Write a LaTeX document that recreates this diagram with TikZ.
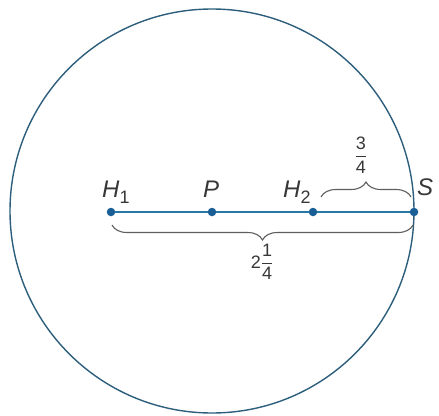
\documentclass[tikz,border=0pt]{standalone}
\usepackage{amsmath}
\usepackage{fontspec}
\setmainfont{Liberation Sans}
\usetikzlibrary{decorations.pathreplacing}
\definecolor{circ}{RGB}{45,95,125}
\definecolor{seg}{RGB}{40,120,165}
\definecolor{dotc}{RGB}{25,95,150}
\definecolor{txt}{RGB}{55,55,55}
\definecolor{brc}{RGB}{95,95,95}
\newcommand{\lblsize}{\fontsize{24}{26}\selectfont}
\newcommand{\numsize}{\fontsize{18}{20}\selectfont}
\newcommand{\subone}[1]{\raisebox{-6pt}{\numsize\upshape #1}}
\newcommand{\myfrac}[2]{$\genfrac{}{}{1pt}{0}{\text{\numsize #1}}{\text{\numsize #2}}$}
\tikzset{
  pt/.style={circle,fill=dotc,inner sep=0pt,minimum size=8.5pt},
  lbl/.style={inner sep=0pt,text=txt,font=\lblsize\itshape,anchor=base west},
  fracnode/.style={inner sep=0pt,text=txt,font=\numsize},
  bracestyle/.style={draw=brc,line width=1.1pt,decorate,decoration={brace,amplitude=#1}}
}
\begin{document}
\begin{tikzpicture}[x=1pt,y=-1pt]
\useasboundingbox (0,0) rectangle (439,415);
\fill[white] (0,0) rectangle (439,415);
\coordinate (C) at (212,211);
\draw[circ,line width=1.4pt] (C) circle[radius=202];
\node[pt] (H1) at (111,212) {};
\node[pt] (P) at (212,212) {};
\node[pt] (H2) at (313,212) {};
\node[pt] (S) at (414,212) {};
\draw[seg,line width=2pt] (H1) -- (P) -- (H2) -- (S);
\node[lbl] (lH1) at (102,197) {H\subone{1}};
\node[lbl] (lP) at (203,197) {P};
\node[lbl] (lH2) at (283,197) {H\subone{2}};
\node[lbl] (lS) at (417,195) {S};
\coordinate (ua) at (321,197);
\coordinate (ub) at (411,197);
\draw[bracestyle=15pt] (ua) -- (ub);
\node[fracnode] (f34) at (361,155) {\myfrac{3}{4}};
\coordinate (la) at (413,225);
\coordinate (lb) at (112,225);
\draw[bracestyle=15pt] (la) -- (lb);
\node[fracnode] (f214) at (262,262) {2\myfrac{1}{4}};
\end{tikzpicture}
\end{document}
